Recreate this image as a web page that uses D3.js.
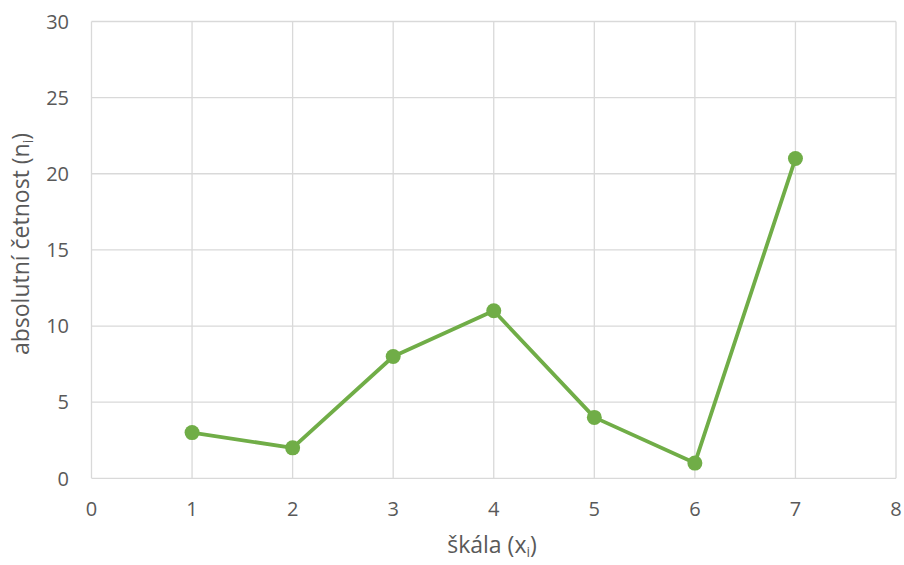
<!DOCTYPE html>
<html><head><meta charset="utf-8">
<script src="https://cdn.jsdelivr.net/npm/d3@7"></script>
<style>body{margin:0;background:#fff}svg{display:block}text{font-family:"Open Sans",sans-serif;fill:#595959}</style>
</head><body><svg id="c" width="904" height="565"></svg>
<script>
const xValues = [1, 2, 3, 4, 5, 6, 7];
const yValues = [3, 2, 8, 11, 4, 1, 21];
const xTicks = [0, 1, 2, 3, 4, 5, 6, 7, 8];
const yTicks = [0, 5, 10, 15, 20, 25, 30];

const svg = d3.select("#c");
const m = {l: 91.5, r: 896, t: 21.5, b: 478.3};
const x = d3.scaleLinear().domain([0, 8]).range([m.l, m.r]);
const y = d3.scaleLinear().domain([0, 30]).range([m.b, m.t]);

const g = svg.append("g");
g.selectAll(".gy").data(yTicks).join("line")
  .attr("x1", m.l).attr("x2", m.r).attr("y1", d => y(d)).attr("y2", d => y(d))
  .attr("stroke", "#d9d9d9").attr("stroke-width", 1.3);
g.selectAll(".gx").data(xTicks).join("line")
  .attr("y1", m.t).attr("y2", m.b).attr("x1", d => x(d)).attr("x2", d => x(d))
  .attr("stroke", "#d9d9d9").attr("stroke-width", 1.3);

g.selectAll(".ty").data(yTicks).join("text")
  .attr("x", 69).attr("y", d => y(d)).attr("dy", "0.36em").attr("text-anchor", "end")
  .attr("font-size", 20).text(d => d);
g.selectAll(".tx").data(xTicks).join("text")
  .attr("x", d => x(d)).attr("y", 516).attr("text-anchor", "middle")
  .attr("font-size", 20).text(d => d);

const t1 = svg.append("text").attr("x", 492).attr("y", 553).attr("text-anchor", "middle").attr("font-size", 23);
t1.append("tspan").text("škála (x");
t1.append("tspan").attr("font-size", 14).attr("dy", 4).text("i");
t1.append("tspan").attr("dy", -4).text(")");

const t2 = svg.append("text").attr("transform", "translate(29,244) rotate(-90)").attr("text-anchor", "middle").attr("font-size", 23);
t2.append("tspan").text("absolutní četnost (n");
t2.append("tspan").attr("font-size", 14).attr("dy", 4).text("i");
t2.append("tspan").attr("dy", -4).text(")");

const data = xValues.map((v, i) => [v, yValues[i]]);
svg.append("path").datum(data)
  .attr("d", d3.line().x(d => x(d[0])).y(d => y(d[1])))
  .attr("fill", "none").attr("stroke", "#70ad47").attr("stroke-width", 3.8).attr("stroke-linejoin", "round");
svg.selectAll(".pt").data(data).join("circle")
  .attr("cx", d => x(d[0])).attr("cy", d => y(d[1])).attr("r", 7.5).attr("fill", "#70ad47");
</script></body></html>
